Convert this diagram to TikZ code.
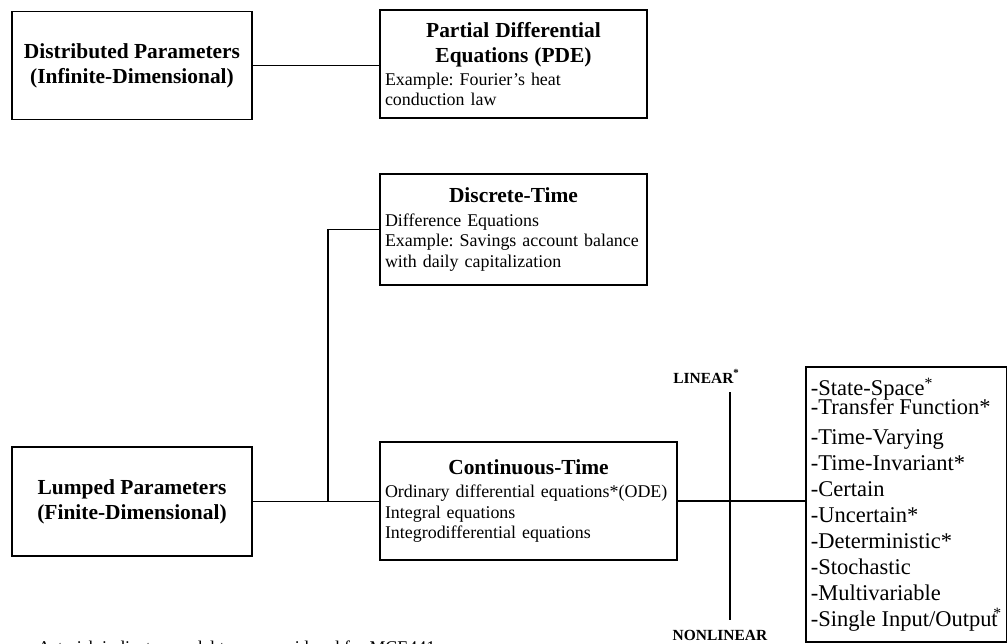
\documentclass[tikz,border=0pt]{standalone}
\usepackage{fontspec}
\setmainfont{Liberation Serif}
\usepackage{tikz}
\usetikzlibrary{positioning, calc}
\frenchspacing

\newcommand{\titlesize}{\fontsize{12.2pt}{14.2pt}\selectfont}
\newcommand{\bodysize}{\fontsize{10.2pt}{11.7pt}\selectfont}
\newcommand{\listsize}{\fontsize{12.8pt}{14.8pt}\selectfont}
\newcommand{\tagsize}{\fontsize{8.8pt}{10pt}\selectfont}
\newcommand{\boxtitle}[1]{{\centering\titlesize\bfseries #1\par}\vspace{1.5pt}}

\begin{document}
\begin{tikzpicture}[line width=1.1pt,
      plain/.style={draw, align=center, font=\titlesize\bfseries, minimum width=4.8cm, minimum height=2.16cm},
      desc/.style ={draw, align=left, inner sep=0.1cm, font=\bodysize},
      tag/.style  ={font=\tagsize\bfseries, inner sep=0pt}]
    \useasboundingbox (0,0) rectangle (20.14,12.86);
    % --- TOP: distributed parameter systems ---
    \node[plain] (dist) at (2.64,11.55) {Distributed Parameters\\(Infinite-Dimensional)};
    \node[desc, text width=5.14cm, minimum height=2.16cm] (pde) at (10.27,11.58)
      {\boxtitle{Partial Differential\\Equations (PDE)}Example: Fourier's heat\\conduction law};
    \draw (dist.east) -- (dist.east -| pde.west);
    % --- MIDDLE: lumped parameter systems, discrete or continuous ---
    \node[desc, text width=5.14cm, minimum height=2.22cm] (disc) at (10.27,8.27)
      {\boxtitle{Discrete-Time}Difference Equations\\Example: Savings account balance\\with daily capitalization};
    \node[plain, minimum height=2.18cm] (lump) at (2.64,2.83) {Lumped Parameters\\(Finite-Dimensional)};
    \node[desc, text width=5.74cm, minimum height=2.36cm] (cont) at (10.57,2.84)
      {\boxtitle{Continuous-Time}Ordinary differential equations*(ODE)\\Integral equations\\Integrodifferential equations};
    \path (lump.east) -- coordinate[pos=0.594] (jn) (cont.west |- lump.east);
    \draw (lump.east) -- (cont.west |- lump.east);
    \draw (disc.west) -| (jn);
    % --- RIGHT: linear / nonlinear split and the model types ---
    \node[desc, font=\listsize, minimum width=3.98cm, minimum height=5.5cm] (list) at (18.13,2.77)
      {-State-Space\textsuperscript{*}\\[-4pt]
       -Transfer Function*\\[2pt]
       -Time-Varying\\
       -Time-Invariant*\\
       -Certain\\
       -Uncertain*\\
       -Deterministic*\\
       -Stochastic\\
       -Multivariable\\
       -Single Input/Output\kern-2.5pt\textsuperscript{*}};
    \draw (cont.east) -- (cont.east -| list.west);
    \coordinate (lintop) at (14.6,5.02);
    \coordinate (linbot) at (14.6,0.46);
    \draw (lintop) -- (linbot);
    \node[tag, anchor=base] (lin) at (14.13,5.2) {LINEAR\textsuperscript{*}};
    \node[tag, anchor=base] (nonlin) at (14.4,0.06) {NONLINEAR};
    % --- footnote, cut by the page edge ---
    \node[anchor=north west, font=\bodysize, inner sep=0pt] (note) at (0.74,0.07)
      {Asterisk indicates model types considered for MCE441};
\end{tikzpicture}
\end{document}
